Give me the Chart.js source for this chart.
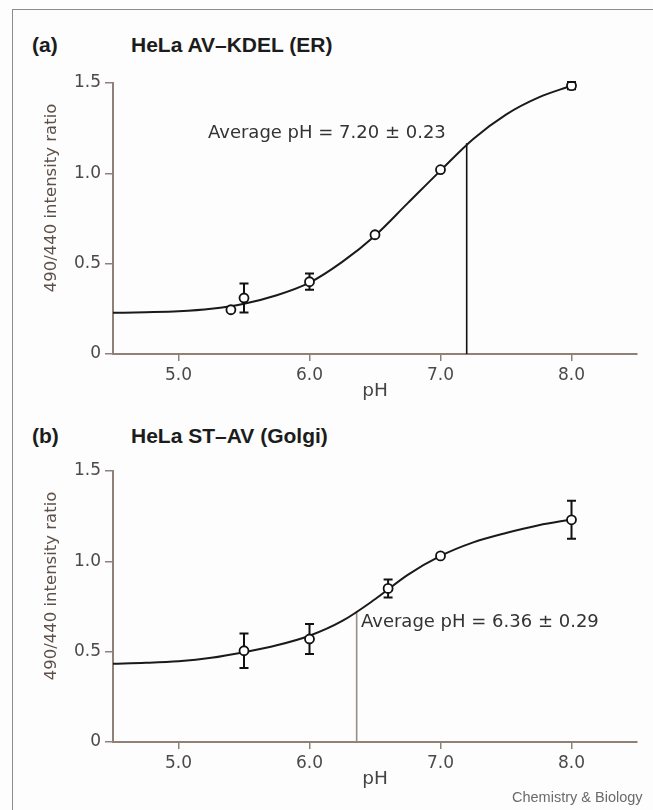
<!DOCTYPE html>
<html>
<head>
<meta charset="utf-8">
<script src="https://cdn.jsdelivr.net/npm/chart.js@4.4.0/dist/chart.umd.min.js"></script>
<style>
  html, body { margin: 0; padding: 0; background: #fdfdfd; }
  body { width: 653px; height: 810px; position: relative; overflow: hidden; font-family: "Liberation Sans", Arial, sans-serif; }
  .frame { position: absolute; left: 12px; top: 9px; width: 700px; height: 900px; border-left: 1.5px solid #8c8c8c; border-top: 1.5px solid #8c8c8c; }
  .panel { position: absolute; left: 0; }
  .head { position: absolute; font-weight: bold; font-size: 21px; line-height: 21px; color: #1c1c1c; white-space: nowrap; }
  .credit { position: absolute; left: 512px; top: 789px; font-size: 14.5px; line-height: 16px; color: #6a6a6a; white-space: nowrap; }
</style>
</head>
<body>
<div class="frame"></div>

<div class="head" style="left:32px; top:34px;">(a)</div>
<div class="head" style="left:131px; top:34px;">HeLa AV–KDEL (ER)</div>
<canvas id="chartER" class="panel" width="653" height="350" style="top:60px;"></canvas>

<div class="head" style="left:32px; top:425px;">(b)</div>
<div class="head" style="left:131px; top:425px;">HeLa ST–AV (Golgi)</div>
<canvas id="chartGolgi" class="panel" width="653" height="350" style="top:450px;"></canvas>

<div class="credit">Chemistry &amp; Biology</div>

<script>
// axis ticks shared by both panels
const phTicks = [5.0, 6.0, 7.0, 8.0];
const ratioTicks = [0, 0.5, 1.0, 1.5];

// (a) HeLa AV-KDEL (ER): measured points with error bars
const erPH = [5.4, 5.5, 6.0, 6.5, 7.0, 8.0];
const erRatio = [0.245, 0.31, 0.40, 0.66, 1.02, 1.485];
const erError = [0, 0.08, 0.045, 0, 0, 0.02];
// fitted titration curve
const erFitPH = [4.5, 4.75, 5.0, 5.25, 5.5, 5.75, 6.0, 6.25, 6.5, 6.75, 7.0, 7.25, 7.5, 7.75, 8.0];
const erFitRatio = [0.228, 0.231, 0.236, 0.25, 0.278, 0.325, 0.395, 0.51, 0.655, 0.835, 1.015, 1.19, 1.325, 1.42, 1.485];
const erAveragePH = 7.20;
const erAverageSD = 0.23;
const erAverageRatio = 1.167;

// (b) HeLa ST-AV (Golgi)
const golgiPH = [5.5, 6.0, 6.6, 7.0, 8.0];
const golgiRatio = [0.505, 0.57, 0.85, 1.03, 1.23];
const golgiError = [0.095, 0.083, 0.05, 0, 0.105];
const golgiFitPH = [4.5, 4.75, 5.0, 5.25, 5.5, 5.75, 6.0, 6.25, 6.5, 6.75, 7.0, 7.25, 7.5, 7.75, 8.0];
const golgiFitRatio = [0.433, 0.438, 0.447, 0.466, 0.497, 0.535, 0.588, 0.67, 0.79, 0.925, 1.03, 1.105, 1.157, 1.2, 1.232];
const golgiAveragePH = 6.36;
const golgiAverageSD = 0.29;
const golgiAverageRatio = 0.723;

const AXIS = '#8f8178';
const TICK_TEXT = '#4a4a4a';
const NUM_FONT = 'DejaVu Sans';

const toPoints = (xs, ys) => xs.map((x, i) => ({ x: x, y: ys[i] }));

// error bars drawn just before the point markers
const errorBars = {
    id: 'errorBars',
    beforeDatasetDraw(chart, args) {
        const ds = chart.data.datasets[args.index];
        if (!ds.errors) return;
        const { ctx, scales: { x, y } } = chart;
        ctx.save();
        ctx.strokeStyle = '#111';
        ctx.lineWidth = 2;
        ds.data.forEach((p, i) => {
            const e = ds.errors[i];
            if (!e) return;
            const px = x.getPixelForValue(p.x);
            const top = y.getPixelForValue(p.y + e);
            const bot = y.getPixelForValue(p.y - e);
            ctx.beginPath();
            ctx.moveTo(px, top); ctx.lineTo(px, bot);
            ctx.moveTo(px - 4.5, top); ctx.lineTo(px + 4.5, top);
            ctx.moveTo(px - 4.5, bot); ctx.lineTo(px + 4.5, bot);
            ctx.stroke();
        });
        ctx.restore();
    },
};

// y-axis title and the "Average pH" note
const panelText = {
    id: 'panelText',
    afterDraw(chart, args, opts) {
        const { ctx, chartArea, scales: { x, y } } = chart;
        ctx.save();
        ctx.font = '16.5px "' + NUM_FONT + '"';
        ctx.fillStyle = '#5e5048';
        ctx.textAlign = 'center';
        ctx.textBaseline = 'middle';
        ctx.translate(opts.titleX, chartArea.top + opts.titleDy);
        ctx.rotate(-Math.PI / 2);
        ctx.fillText(opts.yTitle, 0, 0);
        ctx.restore();

        ctx.save();
        ctx.font = '18px "' + NUM_FONT + '"';
        ctx.fillStyle = '#333';
        ctx.textAlign = 'left';
        ctx.textBaseline = 'middle';
        ctx.fillText(opts.note, x.getPixelForValue(opts.noteAt.x), y.getPixelForValue(opts.noteAt.y));
        ctx.restore();
    },
};

function makePanel(id, cfg) {
    const ctx = document.getElementById(id);
    return new Chart(ctx, {
        type: 'scatter',
        data: {
            datasets: [{
                label: 'measured',
                data: toPoints(cfg.ph, cfg.ratio),
                errors: cfg.error,
                pointRadius: 4.5,
                pointBorderWidth: 1.8,
                pointBackgroundColor: '#fff',
                pointBorderColor: '#111',
                borderColor: '#111',
            }, {
                label: 'fit',
                data: toPoints(cfg.fitPH, cfg.fitRatio),
                showLine: true,
                pointRadius: 0,
                borderColor: '#1a1a1a',
                borderWidth: 2,
                cubicInterpolationMode: 'monotone',
            }, {
                label: 'average',
                data: [{ x: cfg.avgPH, y: 0 }, { x: cfg.avgPH, y: cfg.avgRatio }],
                showLine: true,
                pointRadius: 0,
                borderColor: cfg.markerColor,
                borderWidth: 1.6,
            }],
        },
        options: {
            responsive: false,
            animation: false,
            events: [],
            devicePixelRatio: 1,
            layout: {
                padding: { left: 12, right: 16, top: cfg.padTop, bottom: cfg.padBottom },
            },
            scales: {
                x: {
                    type: 'linear',
                    min: 4.5,
                    max: 8.5,
                    afterBuildTicks: (s) => { s.ticks = phTicks.map(v => ({ value: v })); },
                    afterFit: (s) => { s.height = 50; },
                    ticks: {
                        color: TICK_TEXT,
                        font: { family: NUM_FONT, size: 17 },
                        padding: 4,
                        maxRotation: 0,
                        autoSkip: false,
                        callback: (v) => v.toFixed(1),
                    },
                    grid: {
                        drawOnChartArea: false,
                        drawTicks: true,
                        tickLength: 7,
                        color: AXIS,
                        lineWidth: 1.5,
                    },
                    border: { display: true, color: AXIS, width: 2 },
                    title: {
                        display: true,
                        text: 'pH',
                        color: '#444',
                        font: { family: NUM_FONT, size: 18.5 },
                        padding: { top: 0, bottom: 2 },
                    },
                },
                y: {
                    min: 0,
                    max: 1.5,
                    afterBuildTicks: (s) => { s.ticks = ratioTicks.map(v => ({ value: v })); },
                    afterFit: (s) => { s.width = 101; },
                    ticks: {
                        color: TICK_TEXT,
                        font: { family: NUM_FONT, size: 17 },
                        padding: 4,
                        callback: (v) => (v === 0 ? '0' : v.toFixed(1)),
                    },
                    grid: {
                        drawOnChartArea: false,
                        drawTicks: true,
                        tickLength: 8,
                        color: AXIS,
                        lineWidth: 1.5,
                    },
                    border: { display: true, color: AXIS, width: 2 },
                },
            },
            plugins: {
                legend: { display: false },
                tooltip: { enabled: false },
                panelText: {
                    yTitle: '490/440 intensity ratio',
                    titleX: 52,
                    titleDy: 115,
                    note: 'Average pH = ' + cfg.avgPH.toFixed(2) + ' ± ' + cfg.avgSD.toFixed(2),
                    noteAt: cfg.noteAt,
                },
            },
        },
        plugins: [errorBars, panelText],
    });
}

makePanel('chartER', {
    ph: erPH, ratio: erRatio, error: erError,
    fitPH: erFitPH, fitRatio: erFitRatio,
    avgPH: erAveragePH, avgSD: erAverageSD, avgRatio: erAverageRatio,
    markerColor: '#111',
    noteAt: { x: 5.225, y: 1.223 },
    padTop: 23, padBottom: 6,
});

makePanel('chartGolgi', {
    ph: golgiPH, ratio: golgiRatio, error: golgiError,
    fitPH: golgiFitPH, fitRatio: golgiFitRatio,
    avgPH: golgiAveragePH, avgSD: golgiAverageSD, avgRatio: golgiAverageRatio,
    markerColor: '#9a8d84',
    noteAt: { x: 6.393, y: 0.664 },
    padTop: 21, padBottom: 8,
});
</script>
</body>
</html>
